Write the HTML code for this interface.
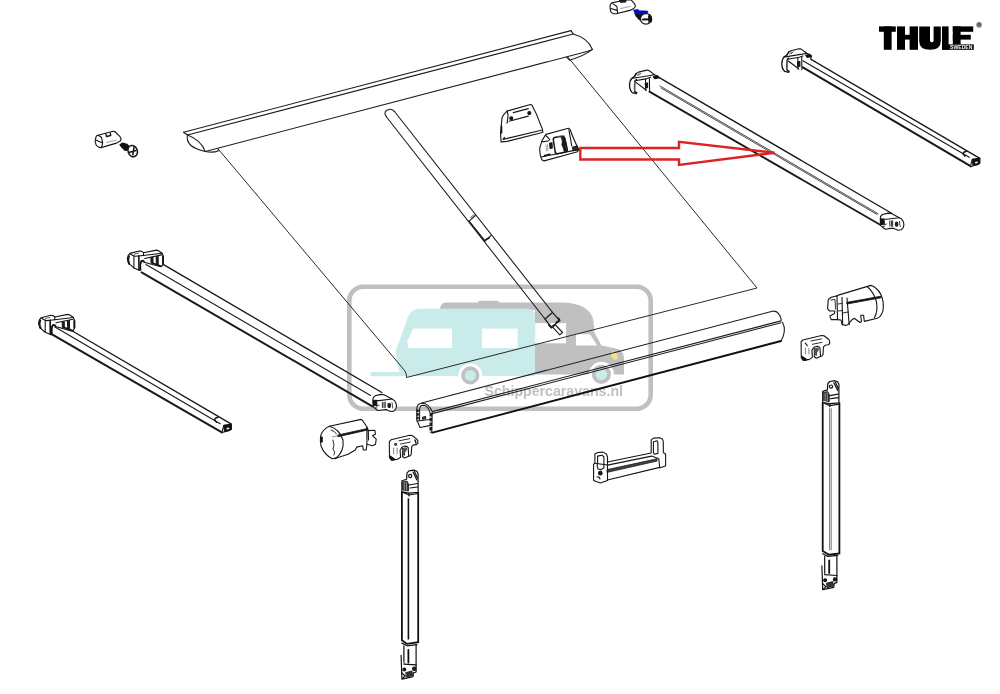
<!DOCTYPE html>
<html><head><meta charset="utf-8">
<style>
html,body{margin:0;padding:0;background:#fff;}
body{width:1000px;height:694px;overflow:hidden;font-family:"Liberation Sans",sans-serif;}
svg{display:block;}
text{will-change:transform;}
</style></head>
<body>
<svg width="1000" height="694" viewBox="0 0 1000 694">
<!-- WATERMARK -->
<g id="wm">
  <rect x="349.3" y="286.8" width="301.4" height="121.9" rx="14" ry="14" fill="none" stroke="#c0c0c0" stroke-width="4.6"/>
  <!-- gray motorhome -->
  <path d="M446 302.5 L560 302.5 Q594 302.5 594 326 L594.5 332.8 L601.5 345.6 L616 348.5 Q624 350 624 358 L624 374.5 L535 374.5 L535 310 L440 310 Q440 302.5 446 302.5 Z" fill="#c0c0c0"/>
  <rect x="478" y="300.8" width="21" height="4" rx="1.8" fill="#c0c0c0"/>
  <!-- teal caravan -->
  <path d="M420 308.8 L528 308.8 Q535 308.8 535 315 L535 376 L401 376 Q396 365 396 350 L408 317 Q411 308.8 420 308.8 Z" fill="#c9ebe9"/>
  <rect x="370.4" y="372" width="32" height="4.2" rx="2" fill="#c9ebe9"/>
  <!-- windows -->
  <path d="M413.2 328.6 L452 328.6 L452 348 L408.4 348 L407.3 341.3 Z" fill="#fff"/>
  <rect x="482.1" y="328.6" width="35.5" height="19.4" fill="#fff"/>
  <rect x="535.1" y="323.1" width="31" height="20.2" fill="#fff"/>
  <path d="M576 334.2 L590 334.2 L597.2 345.6 L576 345.6 Z" fill="#fff"/>
  <!-- wheels -->
  <circle cx="470.3" cy="375.4" r="12" fill="#fff"/>
  <circle cx="470.3" cy="375.4" r="7.3" fill="#c9ebe9" stroke="#c0c0c0" stroke-width="3.6"/>
  <circle cx="601.4" cy="374.3" r="12.5" fill="#fff"/>
  <circle cx="601.4" cy="374.3" r="7.7" fill="#c9ebe9" stroke="#c0c0c0" stroke-width="3.8"/>
  <ellipse cx="614.3" cy="355.6" rx="3" ry="4.4" transform="rotate(-28 614.3 355.6)" fill="#f4e28c"/>
  <text opacity="0.999" x="484.5" y="396.4" font-family="Liberation Sans" font-weight="bold" font-size="15.5" fill="#c0c0c0" textLength="138.5" lengthAdjust="spacingAndGlyphs">Schippercaravans.nl</text>
</g>

<g id="lines" fill="none" stroke="#1e1e1e" stroke-width="1.1" stroke-linecap="round" stroke-linejoin="round">
  <!-- TOP RAIL -->
  <path d="M183.6 132.2 L571 30.6"/>
  <path d="M187.5 135 L573.2 34"/>
  <path d="M183.6 132.2 L187.5 135"/>
  <path d="M571 30.6 L573.2 34"/>
  <path d="M205.3 151.5 L588.8 51"/>
  <path d="M573.2 34 Q588 38 592.4 49.4 L588.8 51"/>
  <path d="M566.6 57.2 L569.6 60.2 Q584 56 592.4 49.4"/>
  <path d="M187.5 135 Q185 147 205.3 151.5"/>
  <path d="M187.5 135 Q201 140 205.3 151.5"/>
  <path d="M205.3 151.5 Q213 153 218.2 151 L218.2 149"/>
  <!-- FABRIC -->
  <path d="M218.2 149 L405 371 Q407 375 406.5 377.5 L757 288 L568 57.2" stroke="#2a2a2a" stroke-width="1"/>
  <!-- POLE -->
  <path d="M386.5 117 L545 319"/>
  <path d="M394.5 111.5 L552.5 312.4"/>
  <path d="M386.5 117 Q383 112 387.5 110 Q391 108 394.5 111.5"/>
  <path d="M545 319 L552.5 312.4 L559.5 320.4 L551.5 327.5 Z" stroke-width="1.3"/>
  <path d="M549 325 L551.5 327.5 L554.5 325" stroke-width="2"/>
  <path d="M556.5 322.5 L559.5 320.4 L558.5 318.5" stroke-width="2"/>
  <path d="M555 324.5 L562.5 332.5 L559.8 334.8 L552.5 326.8"/>
  <path d="M469 221.1 L475.4 215.6"/>
  <path d="M484.9 241 L491.2 235.4"/>
  <path d="M469 221.1 L484.9 241" stroke-width="1.5"/>
  <path d="M470.5 217.5 L474 214.5 M471.2 218.3 L474.7 215.3" stroke-width="0.6"/>
  <path d="M486 239.5 L489 238" stroke-width="1.8"/>
  <!-- ROLLER -->
  <path d="M421.6 403 L772.4 311.2 Q779 310 781.4 320.2"/>
  <path d="M432.4 411.6 L781 320.9"/>
  <path d="M432.4 413.6 L781 322.8"/>
  <path d="M782.5 322.3 Q787 331 781 341"/>
  <path d="M416.8 421 L416.8 409 Q417 403.5 421.6 403.3 Q428.5 403 432.2 411.6 L431.8 433"/>
  <path d="M417.6 409.5 L417.6 420.5" stroke-width="2.4" stroke-dasharray="2.6 1" stroke-linecap="butt"/>
  <path d="M419.6 420.5 L419.6 409 Q420 405.2 423 405.2 Q428 405.5 430 412.5"/>
  <path d="M430.9 413 L430.7 432.5" stroke-width="2.6" stroke-dasharray="3.5 1.2" stroke-linecap="butt"/>
  <path d="M417.5 421.5 L420 427.5 L429.6 425.6"/>
  <path d="M417.5 421 L429.8 419.5"/>
  <path d="M422.5 417.2 L425.5 416.5 L425.6 418.6 L422.7 419.3 Z" fill="#555"/>
</g>
<g fill="none" stroke="#111" stroke-width="1.9" stroke-linecap="round">
  <path d="M432.4 432.6 L781 341"/>
</g>

<!-- ARMS -->
<g fill="none" stroke="#1a1a1a" stroke-width="1.4" stroke-linecap="round">
  <!-- right arm 1 -->
  <path d="M810.9 55.8 L811 59.4 L979.8 158.3"/>
  <path d="M802.9 60.8 L969.3 157.2" stroke-width="1.15"/>
  <path d="M802.9 67.3 L971 166.3" stroke-width="2.1"/>
  <!-- right arm 2 -->
  <path d="M658.9 77.3 L892 213.5"/>
  <path d="M660 86 L878 213.7" stroke-width="0.8"/>
  <path d="M661 88 L877 214.5" stroke-width="0.8"/>
  <path d="M649.4 91.6 L880.6 225" stroke-width="1.8"/>
  <!-- left arm 1 -->
  <path d="M160.6 262.9 L381.9 392.5"/>
  <path d="M146 264.6 L370.6 395.5" stroke-width="1.1"/>
  <path d="M141.6 272.4 L372.4 406.3" stroke-width="2"/>
  <!-- left arm 2 -->
  <path d="M72.4 331 L231.4 424.2"/>
  <path d="M55 327 L220.2 423.7" stroke-width="1.15"/>
  <path d="M51.6 334.2 L221.9 432.4" stroke-width="2.1"/>
</g>

<!-- ARM CAPS -->
<g fill="#fff" stroke="#151515" stroke-width="1.1" stroke-linejoin="round" stroke-linecap="round">
  <g>
    <path d="M631.6 78.5 L634.6 76.4 L636.4 73.4 L638.5 72.1 L646.8 70.1 L648.5 70.3 L654.5 74.6 L658.9 77.2 L650 79.5 L649.6 91 L646.8 90.2 L637 92.5 L636.4 93.7 L632.5 92.8 Q629.7 90.5 629.5 85.5 Q629.7 80.5 631.6 78.5 Z" stroke="none"/>
    <path d="M636.4 73.4 L634.6 76.4 L631.6 78.5 Q629.7 80.5 629.5 85.5 Q629.7 90.5 632.5 92.8 L636.4 93.7 L636.8 92.6 L634.6 91.6 Q634.1 86 635.1 80.7 L636.5 79.5" fill="none" stroke-width="1.3"/>
    <path d="M634.9 82 L634.7 90.5" fill="none" stroke="#666" stroke-width="1.2"/>
    <path d="M634.6 76.4 L636.4 73.4 L638.5 72.1 L646.8 70.1 L648.5 70.3 L654.5 74.6 L658.9 77.2" fill="none"/>
    <path d="M631.6 78.5 L650.2 75.5 L654.5 74.6" fill="none"/>
    <path d="M635.1 80.7 L647 78.6 L650.6 77.3" fill="none"/>
    <path d="M637.3 75.2 L639.3 73.4 M639 75.2 L641 73.2" fill="none" stroke-width="0.8"/>
    <path d="M645.5 79 L645.8 90.5 M649.4 78.5 L649.6 91" fill="none"/>
    <path d="M645.3 83.3 L647.6 83 L647.6 87.6 L645.5 87.8 Z" fill="#111"/>
    <path d="M636 82.4 L646.3 90.2" fill="none"/>
    <path d="M653.3 76.8 L657.3 75.6 L659.2 77.8 L655 78.8 Z" fill="#111"/>
  </g>
  <g transform="translate(152.3,-21.4)">
    <path d="M631.6 78.5 L634.6 76.4 L636.4 73.4 L638.5 72.1 L646.8 70.1 L648.5 70.3 L654.5 74.6 L658.9 77.2 L650 79.5 L649.6 91 L646.8 90.2 L637 92.5 L636.4 93.7 L632.5 92.8 Q629.7 90.5 629.5 85.5 Q629.7 80.5 631.6 78.5 Z" stroke="none"/>
    <path d="M636.4 73.4 L634.6 76.4 L631.6 78.5 Q629.7 80.5 629.5 85.5 Q629.7 90.5 632.5 92.8 L636.4 93.7 L636.8 92.6 L634.6 91.6 Q634.1 86 635.1 80.7 L636.5 79.5" fill="none" stroke-width="1.3"/>
    <path d="M634.9 82 L634.7 90.5" fill="none" stroke="#666" stroke-width="1.2"/>
    <path d="M634.6 76.4 L636.4 73.4 L638.5 72.1 L646.8 70.1 L648.5 70.3 L654.5 74.6 L658.9 77.2" fill="none"/>
    <path d="M631.6 78.5 L650.2 75.5 L654.5 74.6" fill="none"/>
    <path d="M635.1 80.7 L647 78.6 L650.6 77.3" fill="none"/>
    <path d="M637.3 75.2 L639.3 73.4 M639 75.2 L641 73.2" fill="none" stroke-width="0.8"/>
    <path d="M645.5 79 L645.8 90.5 M649.4 78.5 L649.6 91" fill="none"/>
    <path d="M645.3 83.3 L647.6 83 L647.6 87.6 L645.5 87.8 Z" fill="#111"/>
    <path d="M636 82.4 L646.3 90.2" fill="none"/>
    <path d="M653.3 76.8 L657.3 75.6 L659.2 77.8 L655 78.8 Z" fill="#111"/>
  </g>
  <g>
    <path d="M50.5 334.6 L44.8 332 L40 327.6 L38.6 323.2 L39.5 319.7 L41.3 317.7 L50.5 315.3 L53.2 315.7 L54.9 317 L67.7 314.4 L69.4 314.8 L73.4 317.5 L74.7 320.6 L74.7 327.6 L73.4 330.2 L72.1 331.1 L55.5 326.5 L53.5 325.3 L52 326.5 L51.4 334.6 Z"/>
    <path d="M41.3 317.7 Q43 320 46.6 320.6 L54.6 319.8" fill="none"/>
    <path d="M45.2 320.6 L45.2 332" fill="none"/>
    <path d="M50.1 320.2 L50.3 334.3" fill="none" stroke-width="1.6"/>
    <path d="M54.9 317 L54.6 319.8 L73.4 317.5" fill="none"/>
    <path d="M56 322.8 L73 319.2" fill="none"/>
    <path d="M62.2 321.9 L64.2 321.5 L64.3 327.8 L62.4 327.3 Z M67.5 321 L69.4 320.6 L69.5 329 L67.7 328.6 Z" fill="#222"/>
    <path d="M64.2 327.5 L72.5 330.5" fill="none" stroke-width="1.6"/>
    <path d="M74.2 320.8 L74.3 327.8" fill="none" stroke-width="1.8"/>
    <path d="M40.2 320.5 Q38.6 324 40.5 328" fill="none" stroke-width="2"/>
    <path d="M51.9 334.2 Q51.1 328.5 52.5 325.4 Q53.9 324.2 55.5 325.8" fill="none" stroke-width="1.5"/>
    <path d="M45.5 318.5 L50 317.3" fill="none" stroke-width="0.7"/>
  </g>
  <g transform="translate(88.7,-64.3)">
    <path d="M50.5 334.6 L44.8 332 L40 327.6 L38.6 323.2 L39.5 319.7 L41.3 317.7 L50.5 315.3 L53.2 315.7 L54.9 317 L67.7 314.4 L69.4 314.8 L73.4 317.5 L74.7 320.6 L74.7 327.6 L73.4 330.2 L72.1 331.1 L55.5 326.5 L53.5 325.3 L52 326.5 L51.4 334.6 Z"/>
    <path d="M41.3 317.7 Q43 320 46.6 320.6 L54.6 319.8" fill="none"/>
    <path d="M45.2 320.6 L45.2 332" fill="none"/>
    <path d="M50.1 320.2 L50.3 334.3" fill="none" stroke-width="1.6"/>
    <path d="M54.9 317 L54.6 319.8 L73.4 317.5" fill="none"/>
    <path d="M56 322.8 L73 319.2" fill="none"/>
    <path d="M62.2 321.9 L64.2 321.5 L64.3 327.8 L62.4 327.3 Z M67.5 321 L69.4 320.6 L69.5 329 L67.7 328.6 Z" fill="#222"/>
    <path d="M64.2 327.5 L72.5 330.5" fill="none" stroke-width="1.6"/>
    <path d="M74.2 320.8 L74.3 327.8" fill="none" stroke-width="1.8"/>
    <path d="M40.2 320.5 Q38.6 324 40.5 328" fill="none" stroke-width="2"/>
    <path d="M51.9 334.2 Q51.1 328.5 52.5 325.4 Q53.9 324.2 55.5 325.8" fill="none" stroke-width="1.5"/>
    <path d="M45.5 318.5 L50 317.3" fill="none" stroke-width="0.7"/>
  </g>
  <g>
    <path d="M880.5 216.5 L882.5 214.5 L888.1 213.1 L891.4 213.5 L899.4 217.7 L901.9 219.3 L903.5 222.1 L903.9 225 L903.1 227.8 L901.1 229.8 L898.2 230.2 L895 229 L893.8 228.2 L890.6 228.4 L886.1 229.2 L884.1 228.6 L880.5 225.4 L880.3 219.3 Z"/>
    <path d="M880.9 218.9 L886.5 219.3 L899.4 217.7" fill="none"/>
    <path d="M880.6 219.3 L884.1 219.8 L884.3 224.2 L881 224.5 Z" fill="#111"/>
    <path d="M889.8 221 L889.8 226.2 M891.4 221 L891.4 226.2 M892.6 220.8 L892.6 226.5" fill="none" stroke-width="0.9"/>
    <ellipse cx="896.6" cy="224.2" rx="1.3" ry="2.1" fill="#222"/>
    <path d="M899.4 221.3 L900.2 226.6" fill="none" stroke-width="0.8"/>
    <path d="M884 225 L886.5 224 M882 226.5 L884.5 226.7" fill="none" stroke-width="0.8"/>
  </g>
  <g transform="translate(-507.4,181.3)">
    <path d="M880.5 216.5 L882.5 214.5 L888.1 213.1 L891.4 213.5 L899.4 217.7 L901.9 219.3 L903.5 222.1 L903.9 225 L903.1 227.8 L901.1 229.8 L898.2 230.2 L895 229 L893.8 228.2 L890.6 228.4 L886.1 229.2 L884.1 228.6 L880.5 225.4 L880.3 219.3 Z"/>
    <path d="M880.9 218.9 L886.5 219.3 L899.4 217.7" fill="none"/>
    <path d="M880.6 219.3 L884.1 219.8 L884.3 224.2 L881 224.5 Z" fill="#111"/>
    <path d="M889.8 221 L889.8 226.2 M891.4 221 L891.4 226.2 M892.6 220.8 L892.6 226.5" fill="none" stroke-width="0.9"/>
    <ellipse cx="896.6" cy="224.2" rx="1.3" ry="2.1" fill="#222"/>
    <path d="M899.4 221.3 L900.2 226.6" fill="none" stroke-width="0.8"/>
    <path d="M884 225 L886.5 224 M882 226.5 L884.5 226.7" fill="none" stroke-width="0.8"/>
  </g>
  <g>
    <path d="M970.5 166.2 L971.6 161.9 L972.3 159.4 L979.8 158.3 L979.8 163 L978 164.4 L971.6 166.2 Z"/>
    <path d="M972.3 159.6 L979.5 158.6 L979.7 163.4 L977.5 164.5 L973 165.5 Z" fill="#111"/>
    <path d="M975 162 L977.5 161.5 L977.8 163 L975.3 163.5 Z" fill="#fff" stroke="none"/>
    <path d="M962.9 154 Q963.5 151.3 966.5 151.5 M963 153.5 L965 156.3" fill="none" stroke-width="1.3"/>
  </g>
  <g transform="translate(-748.5,266)">
    <path d="M970.5 166.2 L971.6 161.9 L972.3 159.4 L979.8 158.3 L979.8 163 L978 164.4 L971.6 166.2 Z"/>
    <path d="M972.3 159.6 L979.5 158.6 L979.7 163.4 L977.5 164.5 L973 165.5 Z" fill="#111"/>
    <path d="M975 162 L977.5 161.5 L977.8 163 L975.3 163.5 Z" fill="#fff" stroke="none"/>
    <path d="M962.9 154 Q963.5 151.3 966.5 151.5 M963 153.5 L965 156.3" fill="none" stroke-width="1.3"/>
  </g>
</g>

<!-- LEGS -->
<g fill="none" stroke="#111" stroke-width="1.8">
  <path d="M401.9 492 L401.9 640.3 L407 643.9 L418.2 642.2 L418.2 492"/>
  <path d="M408.4 498.3 L408.4 639.5" stroke-width="1.6"/>
  <path d="M822.7 402.6 L822.7 551.1 L829 554.7 L839.4 553.5 L839.4 402.6"/>
  <path d="M829.6 408.3 L829.6 550.3 M831.2 408.3 L831.2 550.3" stroke-width="0.8" stroke="#555"/>
</g>

<!-- SMALL PARTS -->
<g fill="#fff" stroke="#151515" stroke-width="1.1" stroke-linejoin="round" stroke-linecap="round">
  <!-- block + screw top-left -->
  <path d="M95.5 139 L96.3 136.1 L98.1 135.3 L113.1 131.2 L114.8 131.5 L120 136.7 L121.1 139 L120.5 140.7 L116.5 143.1 L102.7 147.1 L101.5 147.7 L98.6 147.1 L96.3 145.4 L95.2 141.9 Z"/>
  <path d="M98.1 135.3 L101.5 137.3 L102.7 143.1 L101.5 147.1 M96.3 140.2 L102.7 143.1" fill="none"/>
  <path d="M105.8 133.8 L106.5 136.5 L110.8 135.5 L110.2 132.8" fill="none" stroke-width="1.3"/>
  <path d="M106.7 142.5 L116.5 140" fill="none" stroke="#888" stroke-width="0.8" stroke-dasharray="1 0.7"/>
  <path d="M120 144.8 L122.3 143.1 L126.9 144.2 L129.8 147.1 L128 150 L125.2 150.5 L121.7 147.1 Z" fill="#111"/>
  <ellipse cx="132.7" cy="151.1" rx="4.6" ry="5.8" transform="rotate(-20 132.7 151.1)" stroke-width="1.5"/>
  <path d="M129.5 152.3 L136 150.6 M134 147.2 L132.8 154.8" fill="none" stroke-width="1.5"/>
  <!-- block + screw top -->
  <path d="M610.1 5.2 L611.7 2.9 L619.5 1.3 L620.2 0 L631.2 0 L635.1 4.6 L635.4 6.5 L633.8 8.5 L629.9 10.4 L616.3 13.7 L613 13.7 L610.7 11.7 L610.1 8.5 Z"/>
  <path d="M613 3.9 L616.9 6.5 L617.6 13 M610.7 8.5 L616.9 10.4" fill="none"/>
  <path d="M619.5 0 L626 0 L625.5 2 L620.5 2.3 Z" fill="#222"/>
  <path d="M620.8 8.5 L630.6 6.3" fill="none" stroke="#888" stroke-width="0.8" stroke-dasharray="1 0.7"/>
  <path d="M635 13.5 L640.7 14.2 L644.5 15.5 L642 19.5 L639.5 19.8 L636.2 16.2 Z" fill="#111"/>
  <path d="M633.7 10 L638.2 9.4 L639.1 10.7 L647.7 11 L647.7 13.2 L640.7 14.2 L635 13.5 Z" fill="#0a0ab4" stroke="#0a0ab4" stroke-width="0.6"/>
  <ellipse cx="646" cy="18.9" rx="5.6" ry="5.3" stroke-width="1.3"/>
  <path d="M649.5 14.5 Q652.5 17 651.2 22 L649.5 21 Z" fill="#111"/>
  <path d="M643 19.6 L650.2 19.2" fill="none" stroke-width="2"/>
  <path d="M648.6 15.8 L648.9 22.3" fill="none" stroke-width="1.2"/>
  <!-- bracket A -->
  <path d="M501.1 141.4 L500.5 133.3 L502.1 117.2 L504.1 114.1 L507.1 111.1 L530.3 104.5 L531.8 105 L536.4 114.1 L542.4 129.3 L542.9 132.3 L539.4 133.3 L507.1 141.4 L501.1 141.9 Z"/>
  <path d="M507.1 111.1 L508.1 115.1 L507.1 123.2 M503.1 139.4 L541.4 130.3 M504.5 137.5 Q503 139 503.1 139.4" fill="none"/>
  <circle cx="511.3" cy="118.2" r="1.5" fill="#111"/>
  <circle cx="529.3" cy="113.1" r="1.5" fill="#111"/>
  <path d="M513.2 112.6 L528.3 108.6 M509.1 121.2 L528.3 116.1" fill="none"/>
  <path d="M501.5 126 L501.5 133" fill="none" stroke-width="1.6"/>
  <!-- bracket B -->
  <path d="M545.8 134.4 L568.3 128.3 L570 129.2 Q573 138 578.7 149.4 L577.5 151.7 L544.1 160.9 L541.8 159.7 Q539 153 540 147.1 Q541.5 140 545.8 134.4 Z"/>
  <path d="M541.2 157 L578.2 149.6" fill="none"/>
  <path d="M553.3 139.5 Q553.3 137.6 555.5 137.3 L562 136.2 Q564 136 564.7 138 L567.3 149.5 Q567.5 151.5 565.5 152 L557.5 153.7 Q555.6 154 555.2 152 Z" fill="#fff" stroke-width="1.5"/>
  <path d="M561.2 137.2 L563.6 136.8 L564.8 140 L566.2 143 L565.5 146 L566.8 150.8 L564.2 151.6 L563 147.5 L561.8 145 L562.3 141.5 Z" fill="#1a1a1a" stroke-width="0.6"/>
  <path d="M568.9 129.8 L571.8 146" fill="none"/>
  <path d="M572.5 147.2 L577 146 L577.9 149.6 L573.2 150.6 Z" fill="#333"/>
  <path d="M541.8 141.9 L549 140.8 M545.8 135.5 L549.8 139.6" fill="none"/>
  <path d="M549.6 143.2 L552 142.7 L552.3 148 L550.1 148.5 Z" fill="#222"/>
  <path d="M544.6 155.6 L549.8 154.3" fill="none" stroke-width="1.5"/>
  <path d="M546 145 L546.5 151 M547.5 144.6 L548 150.5" fill="none" stroke="#777" stroke-width="0.7"/>
  <path d="M558 136.5 L564.5 135.3" fill="none" stroke="#777" stroke-width="0.7"/>
  <!-- left drum cap -->
  <path d="M329.4 426.2 L361.1 419.4 L362.6 420.5 L366.9 427 L368.3 430.6 L374.8 430.2 L375.5 434.2 L372.6 435.6 L376.2 439.2 L375.5 444.3 L372.6 445.7 L369.8 445 L366.9 444.3 L366.2 450 L363.3 450 L362.6 445.7 L356.8 447.1 L355.3 450 L348.1 454.3 L336.6 457.9 L332.3 458.7 Q324.5 455 321 446 Q319 436 323 431 Q326 427.5 329.4 426.2 Z"/>
  <path d="M329.4 426.2 Q339.5 429 343 440 Q344.5 452 335.2 458.7" fill="none"/>
  <path d="M338 435 L367.6 428.4 L367.8 430 L338.2 436.7 Z" fill="#111" stroke-width="0.8"/><path d="M332.5 436.9 L338 435.8" fill="none" stroke="#777" stroke-width="0.8"/>
  <path d="M320.8 437 L322.2 437 L322.2 442 L320.6 442 Z" fill="#111"/>
  <path d="M333 440 Q335 445 333 449 Q336 452 334 455 M331 430 Q335 431 336.5 434" fill="none" stroke-width="0.9"/>
  <path d="M366.9 427 L366.9 444.3 M368.3 430.6 L368.5 440" fill="none"/>
  <!-- right drum cap -->
  <path d="M838.4 295.1 L870.8 285.4 Q876.6 287 880.9 294.4 Q884 301 883.1 310.3 Q881 317 877.3 318.2 L864.3 321.4 L863.6 315.3 L860.7 315.3 L861.5 321.8 L860 322.5 L854.3 318.2 L851.4 320.3 L847.8 324.7 L845.6 325.4 L842 324.5 L841 320 L837 319.6 L831.2 319.6 L829.8 316 L834.5 313.5 L834.8 311 L829.8 311 L827.6 308.8 L828.3 299.5 L831.2 297.3 L837 295.9 Z"/>
  <path d="M867.2 286.5 Q873.7 292 876.5 302 Q878 312 874.4 317.5" fill="none"/>
  <path d="M847 302.3 L880.9 296.2 L881 297.8 L847.2 304 Z" fill="#111" stroke-width="0.8"/>
  <path d="M842 297.3 L842.7 324.7 M847 298 L849.2 324.7 M837 296 L837.5 319.6" fill="none"/>
  <path d="M831 300 L835 299.5 L835.5 309 M838 304 L842 303.5 M838 311 L842 310.5 M843 313 L848 312" fill="none" stroke-width="0.9"/>
  <!-- small bracket left -->
  <g id="sbr">
    <path d="M389.3 441.6 L391 439.8 L409.7 435.3 L412.2 435.5 L416.8 439.1 L417.8 440.6 L417.8 443.6 L416.3 444.6 L413.2 445.1 L411.7 446.6 L411.2 454.2 L410.2 455.7 L408.7 456.2 L408.2 447.6 L407.2 446.6 L405.2 446.1 L402.1 447.1 L400.1 450.2 L400.6 457.2 L397.6 459.2 L391.6 460.2 L389.5 457.7 Z"/>
    <path d="M402.5 448 L402.5 456.5 L404.5 458 L408.7 456.2 M404 449 L404.5 455" fill="none"/>
    <path d="M402.3 448.5 L406 447 L407.5 449 L405 453 L403 456 Z" fill="#555" stroke="none"/>
    <path d="M399.1 440.8 L409.7 438.7 M400.6 444.1 L410.2 442.1" fill="none" stroke-width="0.9"/>
    <circle cx="395.6" cy="444.4" r="0.9" fill="none"/>
    <path d="M393.6 448.1 L393.6 453.7 M397.1 448.1 L397.1 453.7" fill="none" stroke="#777" stroke-width="0.9"/>
    <path d="M390 456 L391.6 460 L395 459.5 Z" fill="#111" stroke-width="1.4"/>
    <path d="M415 440 L416 443" fill="none" stroke-width="1.4"/>
  </g>
  <g transform="translate(411.8,-99.8)">
    <path d="M389.3 441.6 L391 439.8 L409.7 435.3 L412.2 435.5 L416.8 439.1 L417.8 440.6 L417.8 443.6 L416.3 444.6 L413.2 445.1 L411.7 446.6 L411.2 454.2 L410.2 455.7 L408.7 456.2 L408.2 447.6 L407.2 446.6 L405.2 446.1 L402.1 447.1 L400.1 450.2 L400.6 457.2 L397.6 459.2 L391.6 460.2 L389.5 457.7 Z"/>
    <path d="M402.5 448 L402.5 456.5 L404.5 458 L408.7 456.2 M404 449 L404.5 455" fill="none"/>
    <path d="M402.3 448.5 L406 447 L407.5 449 L405 453 L403 456 Z" fill="#555" stroke="none"/>
    <path d="M399.1 440.8 L409.7 438.7 M400.6 444.1 L410.2 442.1" fill="none" stroke-width="0.9"/>
    <path d="M393.5 443 L395.5 445.5" fill="none"/>
    <path d="M393.6 448.1 L393.6 453.7 M397.1 448.1 L397.1 453.7" fill="none" stroke="#777" stroke-width="0.9"/>
    <path d="M390 456 L391.6 460 L395 459.5 Z" fill="#111" stroke-width="1.4"/>
  </g>
  <!-- bottom bracket -->
  <path d="M594.9 453.9 L597.6 452.5 L603 452.1 L606.6 454.3 L607.5 457 L607.5 462 L651.2 453 L651.2 439.9 L653.4 438.1 L659.7 437.7 L662.4 439 L663.3 441.7 L663.3 452.5 L665.6 454.3 L665.6 466 L659.7 467.8 L659.7 467.4 L607.5 480 L607.5 480.4 L600.3 483.1 L593.6 480.4 L593.6 464.2 L594.9 463.3 Z"/>
  <path d="M597.6 456.1 L602.1 455.2 L603.9 457 L603.9 467.8 L601.2 469.6 L598 469 Q596.5 466 597.6 463 Z" fill="none"/>
  <path d="M653.4 441.7 L657 440.8 L657.9 442.6 L657.9 453.4 L654.3 454.3 L653.4 452.5 Z" fill="none"/>
  <path d="M607.5 465.1 L651.6 456.1 M658.8 458.8 L659.7 467.8 M651.6 456.1 L658.8 458.8" fill="none"/>
  <path d="M607.5 469.6 L657 458.8 L657 461.1 L607.5 472.3 Z" fill="#444" stroke-width="0.8"/>
  <path d="M607.5 457 L607.5 480 M594.9 463.3 L607.5 465" fill="none"/>
  <circle cx="600.3" cy="473.2" r="1.8" fill="#111"/>
  <path d="M597 477 Q599 476 600 479" fill="none"/>
</g>

<!-- LEG DETAILS -->
<g id="legd" fill="#fff" stroke="#111" stroke-width="1.2" stroke-linejoin="round" stroke-linecap="round">
  <path d="M406.6 479.3 L407 472.9 L409 470.9 L413.8 470.1 L416.9 471.3 L418.1 473.7 L418.1 492.3 L409 493.1 L401.9 491.9 L401.9 481.2 L401.9 480.8 L406.6 479.3 Z"/>
  <circle cx="410.2" cy="476" r="1.6" fill="none"/>
  <path d="M413 472.1 L416.9 480 M414.5 471.5 L417.5 478" fill="none"/>
  <path d="M402.5 482 L407 481 L408.5 484 L408.5 491 L403 490 Z" fill="#333" stroke-width="0.8"/><path d="M404.2 482.5 L404.4 489.8 M406.3 482 L406.6 490" fill="none" stroke="#bbb" stroke-width="0.7"/>
  <path d="M409 485 L417.5 483.5 M410 488 L417.5 487 M409 493.1 L409 496" fill="none"/>
  <path d="M401.9 491.9 L409 495 L418.1 493.5" fill="none"/>
  <path d="M401.9 643.1 L407 645.8 L416.9 644.7" fill="none"/>
  <path d="M403.9 645.8 L403.9 664.1 M416.1 644.7 L416.1 664.9" fill="none"/>
  <path d="M408.4 649.8 L408.4 662.5" fill="none" stroke-width="1.8"/>
  <path d="M401.1 655.3 L401.9 679.1 L413 676.7 L413.4 672.8 L416.1 672 L416.1 664.9 L403.9 664.1" fill="#fff"/>
  <circle cx="404.3" cy="669.6" r="1.4" fill="#222"/>
  <circle cx="414.2" cy="668.8" r="1.6" fill="#222"/>
  <path d="M406 672.5 L412 671 L412.5 675.5 L406.5 677 Z" fill="#333" stroke-width="0.8"/>
  <path d="M402 673 L405 676 L402.5 678.5" fill="none"/>
</g>
<g transform="translate(420.8,-89.4)" fill="#fff" stroke="#111" stroke-width="1.2" stroke-linejoin="round" stroke-linecap="round">
  <path d="M406.6 479.3 L407 472.9 L409 470.9 L413.8 470.1 L416.9 471.3 L418.1 473.7 L418.1 492.3 L409 493.1 L401.9 491.9 L401.9 481.2 L401.9 480.8 L406.6 479.3 Z"/>
  <circle cx="410.2" cy="476" r="1.6" fill="none"/>
  <path d="M413 472.1 L416.9 480 M414.5 471.5 L417.5 478" fill="none"/>
  <path d="M402.5 482 L407 481 L408.5 484 L408.5 491 L403 490 Z" fill="#333" stroke-width="0.8"/><path d="M404.2 482.5 L404.4 489.8 M406.3 482 L406.6 490" fill="none" stroke="#bbb" stroke-width="0.7"/>
  <path d="M409 485 L417.5 483.5 M410 488 L417.5 487 M409 493.1 L409 496" fill="none"/>
  <path d="M401.9 491.9 L409 495 L418.1 493.5" fill="none"/>
  <path d="M401.9 643.1 L407 645.8 L416.9 644.7" fill="none"/>
  <path d="M403.9 645.8 L403.9 664.1 M416.1 644.7 L416.1 664.9" fill="none"/>
  <path d="M408.4 649.8 L408.4 662.5" fill="none" stroke-width="1.8"/>
  <path d="M401.1 655.3 L401.9 679.1 L413 676.7 L413.4 672.8 L416.1 672 L416.1 664.9 L403.9 664.1" fill="#fff"/>
  <circle cx="404.3" cy="669.6" r="1.4" fill="#222"/>
  <circle cx="414.2" cy="668.8" r="1.6" fill="#222"/>
  <path d="M406 672.5 L412 671 L412.5 675.5 L406.5 677 Z" fill="#333" stroke-width="0.8"/>
  <path d="M402 673 L405 676 L402.5 678.5" fill="none"/>
</g>

<!-- RED ARROW -->
<path d="M580.3 148 L679 148 L679 141.8 L774.5 152.7 L679 165 L679 159.5 L580.3 159.5 Z" fill="none" stroke="#dd2226" stroke-width="2.4" stroke-linejoin="miter"/>

<!-- THULE LOGO -->
<g id="thule" fill="#000">
  <rect x="879" y="26.4" width="16.8" height="5.4"/>
  <rect x="883.8" y="26.4" width="7.8" height="23.4"/>
  <rect x="897" y="26.4" width="8" height="23.4"/>
  <rect x="909.6" y="26.4" width="8.4" height="23.4"/>
  <rect x="897" y="34.8" width="21" height="4.8"/>
  <path d="M919.2 26.4 L930 26.4 L930 41 Q931.8 43.5 933.6 41 L933.6 26.4 L940.8 26.4 L940.8 41 Q940.8 49.8 930 49.8 Q919.2 49.8 919.2 41 Z"/>
  <rect x="942" y="26.4" width="6.6" height="23.4"/>
  <rect x="942" y="44.4" width="31.8" height="5.4"/>
  <rect x="952.8" y="26.4" width="7.8" height="18"/>
  <rect x="952.8" y="26.4" width="20.4" height="5.4"/>
  <rect x="952.8" y="34.8" width="18" height="4.8"/>
  <text opacity="0.999" x="950" y="49" font-family="Liberation Sans" font-weight="bold" font-size="4.6" fill="#fff" textLength="22.5" lengthAdjust="spacingAndGlyphs">SWEDEN</text>
  <circle cx="979.1" cy="24.8" r="2.9" fill="#8a8a8a"/><path d="M978.2 26.3 L978.2 23.2 L979.6 23.2 Q980.6 23.3 980.4 24.4 Q980 25 978.9 25 L980.3 26.3" fill="none" stroke="#333" stroke-width="0.6"/>
</g>
</svg>
</body></html>
